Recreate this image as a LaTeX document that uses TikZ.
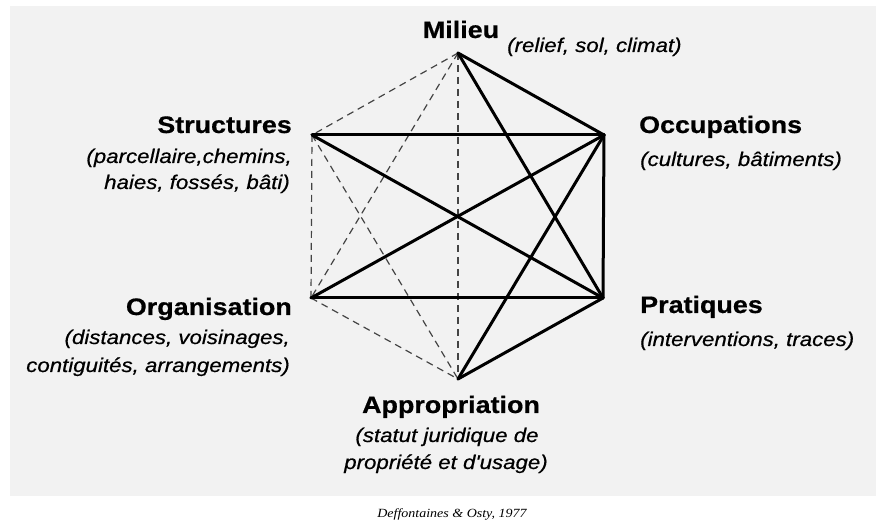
\documentclass[tikz,border=0pt]{standalone}
\usepackage{fontspec}
\newfontfamily\labfont[FakeStretch=1.13,FakeBold=0.6]{Liberation Sans}
\newfontfamily\capfont[FakeStretch=1.12]{Liberation Serif}
\definecolor{bggray}{HTML}{F2F2F2}
\definecolor{dashgray}{HTML}{444444}
\begin{document}
\begin{tikzpicture}[x=1pt,y=-1pt,
  title/.style={inner sep=0pt,font=\labfont\bfseries\fontsize{23.8}{28}\selectfont},
  sub/.style={inner sep=0pt,font=\labfont\itshape\fontsize{19.7}{26}\selectfont},
  strong/.style={line width=3pt,black,line cap=round},
  weak/.style={line width=1.2pt,dashgray,dash pattern=on 7pt off 5pt}]
\useasboundingbox (0,0) rectangle (876,529);
\fill[bggray] (10,6) rectangle (876,496);
% vertices
\coordinate (M) at (458,53);
\coordinate (S) at (312,135);
\coordinate (O) at (604,135);
\coordinate (G) at (311,298);
\coordinate (P) at (603,298);
\coordinate (A) at (458,379);
% dashed links
\draw[weak] (M) -- (S);
\draw[weak] (M) -- (G);
\draw[weak] (M) -- (A);
\draw[weak] (S) -- (G);
\draw[weak] (S) -- (A);
\draw[weak] (G) -- (A);
% solid links
\draw[strong] (M) -- (O);
\draw[strong] (M) -- (P);
\draw[strong] (S) -- (O);
\draw[strong] (S) -- (P);
\draw[strong] (G) -- (O);
\draw[strong] (G) -- (P);
\draw[strong] (O) -- (P);
\draw[strong] (O) -- (A);
\draw[strong] (P) -- (A);
% labels
\node[title,anchor=base] (tM) at (461,38) {Milieu};
\node[sub,anchor=base west] (sM) at (507,52) {(relief, sol, climat)};
\node[title,anchor=base east] (tS) at (292,133) {Structures};
\node[sub,anchor=base east] (sS1) at (292,163) {(parcellaire,chemins,};
\node[sub,anchor=base east] (sS2) at (290,189) {haies, fossés, bâti)};
\node[title,anchor=base west] (tO) at (639,133) {Occupations};
\node[sub,anchor=base west] (sO) at (640,166) {(cultures, bâtiments)};
\node[title,anchor=base east] (tG) at (292,315) {Organisation};
\node[sub,anchor=base east] (sG1) at (290,344) {(distances, voisinages,};
\node[sub,anchor=base east] (sG2) at (290,372) {contiguités, arrangements)};
\node[title,anchor=base west] (tP) at (640,313) {Pratiques};
\node[sub,anchor=base west] (sP) at (640,346) {(interventions, traces)};
\node[title,anchor=base] (tA) at (451,413) {Appropriation};
\node[sub,anchor=base] (sA1) at (447,442) {(statut juridique de};
\node[sub,anchor=base] (sA2) at (446,469) {propriété et d'usage)};
\node[inner sep=0pt,anchor=base,font=\capfont\itshape\fontsize{12.5}{15}\selectfont] (cap) at (452,517) {Deffontaines \& Osty, 1977};
\end{tikzpicture}
\end{document}
